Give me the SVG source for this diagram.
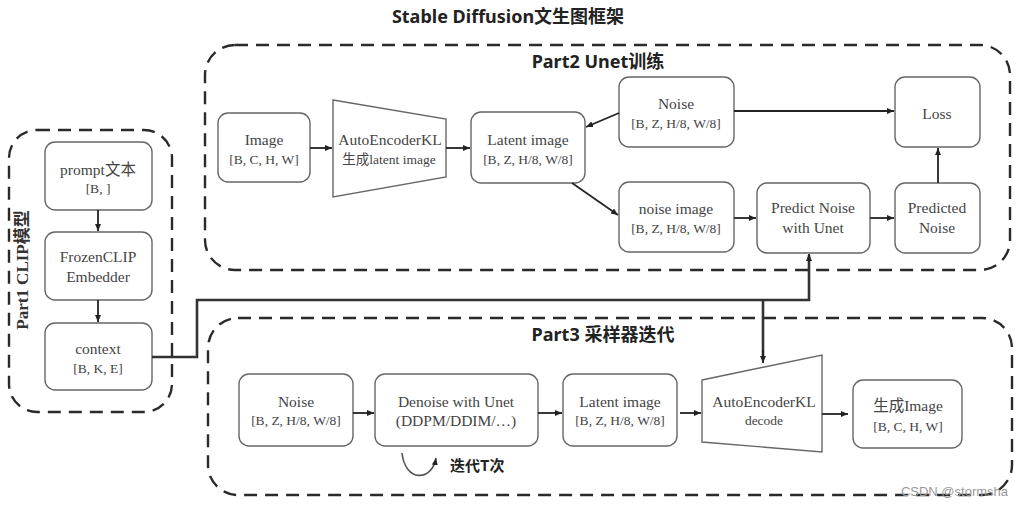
<svg xmlns="http://www.w3.org/2000/svg" width="1024" height="505" viewBox="0 0 1024 505">
<style>
.node{fill:#fff;stroke:#666;stroke-width:1.4}
.grp{fill:none;stroke:#2a2a2a;stroke-width:2.4;stroke-dasharray:13 8}
.t{font-family:"Liberation Serif","Noto Sans CJK SC",serif;font-size:15.5px;fill:#444;text-anchor:middle}
.ts{font-family:"Liberation Serif","Noto Sans CJK SC",serif;font-size:13.5px;fill:#444;text-anchor:middle}
.title{font-family:"Noto Sans","Noto Sans CJK SC",sans-serif;font-weight:bold;font-size:18px;fill:#222;text-anchor:middle}
.c{fill:none;stroke:#222;stroke-width:1.8}
.thick{fill:none;stroke:#333;stroke-width:2.6}
</style>
<defs>
<marker id="ah" markerWidth="8" markerHeight="8" refX="7" refY="4" orient="auto" markerUnits="userSpaceOnUse">
<path d="M0,1 L7,4 L0,7 Z" fill="#222"/>
</marker>
</defs>
<rect width="1024" height="505" fill="#fff"/>
<text class="title" x="508" y="23" font-size="18.5">Stable Diffusion文生图框架</text>

<g id="part1">
<rect class="grp" x="9" y="130" width="163" height="282" rx="28"/>
<text transform="translate(28,270) rotate(-90)" font-family="'Liberation Serif','Noto Sans CJK SC',serif" font-weight="bold" font-size="17" fill="#333" text-anchor="middle">Part1 CLIP模型</text>
</g>
<g id="part2">
<rect class="grp" x="205" y="45" width="805" height="225" rx="30"/>
<text class="title" x="598" y="68">Part2 Unet训练</text>
</g>
<g id="part3">
<rect class="grp" x="208" y="318" width="804" height="177" rx="30"/>
<text class="title" x="603" y="341">Part3 采样器迭代</text>
</g>

<g id="prompt"><rect class="node" x="45" y="142" width="107" height="68" rx="10"/><text class="t" x="98" y="175">prompt文本</text><text class="ts" x="98" y="193">[B, ]</text></g>
<g id="frozenclip"><rect class="node" x="45" y="232" width="107" height="68" rx="10"/><text class="t" x="98" y="262">FrozenCLIP</text><text class="t" x="98" y="282">Embedder</text></g>
<g id="context"><rect class="node" x="45" y="323" width="107" height="67" rx="10"/><text class="t" x="98" y="354">context</text><text class="ts" x="98" y="373">[B, K, E]</text></g>

<g id="image"><rect class="node" x="218" y="113" width="92" height="69" rx="10"/><text class="t" x="264" y="145">Image</text><text class="ts" x="264" y="164">[B, C, H, W]</text></g>
<g id="ae_enc"><path class="node" d="M333,100 L446,119 L446,177 L333,197 Z"/><text class="t" x="390" y="145">AutoEncoderKL</text><text class="ts" x="389" y="164">生成latent image</text></g>
<g id="latent2"><rect class="node" x="471" y="112" width="114" height="71" rx="10"/><text class="t" x="528" y="145">Latent image</text><text class="ts" x="528" y="164">[B, Z, H/8, W/8]</text></g>
<g id="noise2"><rect class="node" x="619" y="77" width="115" height="70" rx="10"/><text class="t" x="676" y="109">Noise</text><text class="ts" x="676" y="128">[B, Z, H/8, W/8]</text></g>
<g id="loss"><rect class="node" x="895" y="77" width="85" height="70" rx="10"/><text class="t" x="937" y="119">Loss</text></g>
<g id="noiseimg"><rect class="node" x="619" y="182" width="115" height="70" rx="10"/><text class="t" x="676" y="214">noise image</text><text class="ts" x="676" y="233">[B, Z, H/8, W/8]</text></g>
<g id="predict"><rect class="node" x="757" y="183" width="113" height="70" rx="10"/><text class="t" x="813" y="213">Predict Noise</text><text class="t" x="813" y="233">with Unet</text></g>
<g id="predicted"><rect class="node" x="895" y="183" width="85" height="70" rx="10"/><text class="t" x="937" y="213">Predicted</text><text class="t" x="937" y="233">Noise</text></g>

<g id="noise3"><rect class="node" x="239" y="374" width="114" height="72" rx="10"/><text class="t" x="296" y="407">Noise</text><text class="ts" x="296" y="425">[B, Z, H/8, W/8]</text></g>
<g id="denoise"><rect class="node" x="375" y="374" width="163" height="72" rx="10"/><text class="t" x="456" y="407">Denoise with Unet</text><text class="t" x="456" y="426">(DDPM/DDIM/…)</text></g>
<g id="latent3"><rect class="node" x="563" y="374" width="114" height="72" rx="10"/><text class="t" x="620" y="407">Latent image</text><text class="ts" x="620" y="425">[B, Z, H/8, W/8]</text></g>
<g id="ae_dec"><path class="node" d="M702,380 L822,355 L822,452 L702,442 Z"/><text class="t" x="764" y="407">AutoEncoderKL</text><text class="ts" x="764" y="425">decode</text></g>
<g id="genimage"><rect class="node" x="853" y="380" width="109" height="68" rx="10"/><text class="t" x="908" y="411">生成Image</text><text class="ts" x="908" y="431">[B, C, H, W]</text></g>

<g id="connectors">
<path class="c" d="M98,210 L98,231" marker-end="url(#ah)"/>
<path class="c" d="M98,300 L98,322" marker-end="url(#ah)"/>
<path class="c" d="M310,148 L332,148" marker-end="url(#ah)"/>
<path class="c" d="M446,148 L470,148" marker-end="url(#ah)"/>
<path class="c" d="M619,113 L586,127" marker-end="url(#ah)"/>
<path class="c" d="M734,111 L894,111" marker-end="url(#ah)"/>
<path class="c" d="M572,183 L618,215" marker-end="url(#ah)"/>
<path class="c" d="M734,218 L756,218" marker-end="url(#ah)"/>
<path class="c" d="M870,218 L894,218" marker-end="url(#ah)"/>
<path class="c" d="M938,183 L938,148" marker-end="url(#ah)"/>
<path class="thick" d="M152,357 L197,357 L197,300 L809,300 L809,255"/>
<path class="c" d="M809,262 L809,254" marker-end="url(#ah)"/>
<path class="thick" d="M763,300 L763,356"/>
<path class="c" d="M763,350 L763,363" marker-end="url(#ah)"/>
<path class="c" d="M353,413 L374,413" marker-end="url(#ah)"/>
<path class="c" d="M538,413 L562,413" marker-end="url(#ah)"/>
<path class="c" d="M680,413 L701,413" marker-end="url(#ah)"/>
<path class="c" d="M822,414 L848,414" marker-end="url(#ah)"/>
<path d="M402,453 C405,482 432,482 436,458" fill="none" stroke="#555" stroke-width="1.6" marker-end="url(#ah)"/>
</g>
<text x="450" y="471" font-family="'Noto Sans CJK SC',sans-serif" font-weight="bold" font-size="15" fill="#222">迭代T次</text>
<text x="1008" y="496" font-family="'Liberation Sans',sans-serif" font-size="13" fill="#999" text-anchor="end">CSDN @stormsha</text>
</svg>
